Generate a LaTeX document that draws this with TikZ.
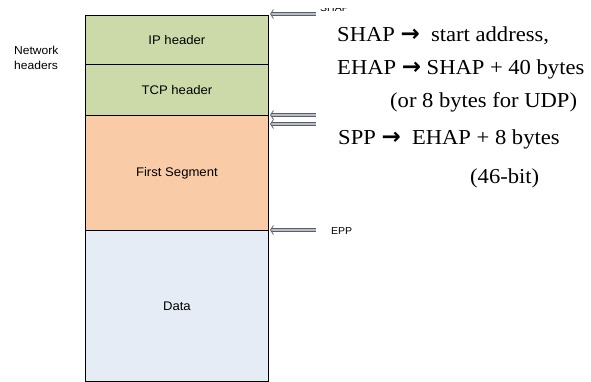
\documentclass[tikz,border=0pt]{standalone}
\usepackage{fontspec}
\setmainfont{Liberation Serif}[FakeStretch=1.06]
\setsansfont{Liberation Sans}[FakeStretch=1.05]
\newfontfamily\arrowfont{DejaVu Sans}
\usetikzlibrary{arrows.meta}
\definecolor{hdrgreen}{HTML}{CCDAA9}
\definecolor{segorange}{HTML}{F9CBA7}
\definecolor{datablue}{HTML}{E5ECF6}
\definecolor{arrgray}{HTML}{5A5E66}
\definecolor{arrfill}{HTML}{B9BDC6}
\tikzset{
  layer/.style={draw=black, line width=0.8pt, minimum width=183pt, anchor=north west,
    inner sep=0pt, font=\sffamily\fontsize{12.5}{14}\selectfont},
  hollow/.style={draw=arrgray, double=arrfill, double distance=2.2pt, line width=0.7pt,
    -{Straight Barb[length=3pt,width=9pt,line width=0.8pt]}},
  note/.style={anchor=base west, inner sep=0pt, font=\fontsize{21.3}{24}\selectfont},
  small/.style={anchor=base west, inner sep=0pt, font=\sffamily\fontsize{10}{12}\selectfont},
}
\newcommand{\ra}{{\arrowfont\bfseries\fontsize{23}{24}\selectfont →}}
\begin{document}
\begin{tikzpicture}[x=1pt,y=1pt]
\useasboundingbox (0,0) rectangle (591,-382);
\node[layer, fill=hdrgreen, minimum height=49pt] (ip) at (85,-15) {IP header};
\node[layer, fill=hdrgreen, minimum height=51pt] (tcp) at (85,-64) {TCP header};
\node[layer, fill=segorange, minimum height=115pt] (seg) at (85,-115) {First Segment};
\node[layer, fill=datablue, minimum height=151pt] (data) at (85,-230) {Data};
\node[align=left, inner sep=0pt, anchor=north west, font=\sffamily\fontsize{11.5}{15}\selectfont] (net) at (14,-46) {Network\\headers};
% arrows
\coordinate (t1) at (316,-14);
\coordinate (t2) at (316,-115);
\coordinate (t3) at (316,-124);
\coordinate (t4) at (316,-230);
\coordinate (h1) at (270,-14);
\coordinate (h2) at (270,-115);
\coordinate (h3) at (270,-124);
\coordinate (h4) at (270,-230);
\draw[hollow] (t1) -- (h1);
\draw[hollow] (t2) -- (h2);
\draw[hollow] (t3) -- (h3);
\draw[hollow] (t4) -- (h4);
\begin{scope}
  \clip (300,-9) rectangle (400,-20);
  \node[small] (shap) at (320,-12) {SHAP};
\end{scope}
\node[small] (epp) at (331,-234) {EPP};
% notes
\node[note] (n1) at (337,-42) {SHAP \ra\ \ start address,};
\node[note] (n2) at (337,-75) {EHAP \ra\ SHAP + 40 bytes};
\node[note] (n3) at (390,-108) {(or 8 bytes for UDP)};
\node[note] (n4) at (338,-145) {SPP \ra\ \ EHAP + 8 bytes};
\node[note] (n5) at (470,-183) {(46-bit)};
\end{tikzpicture}
\end{document}
